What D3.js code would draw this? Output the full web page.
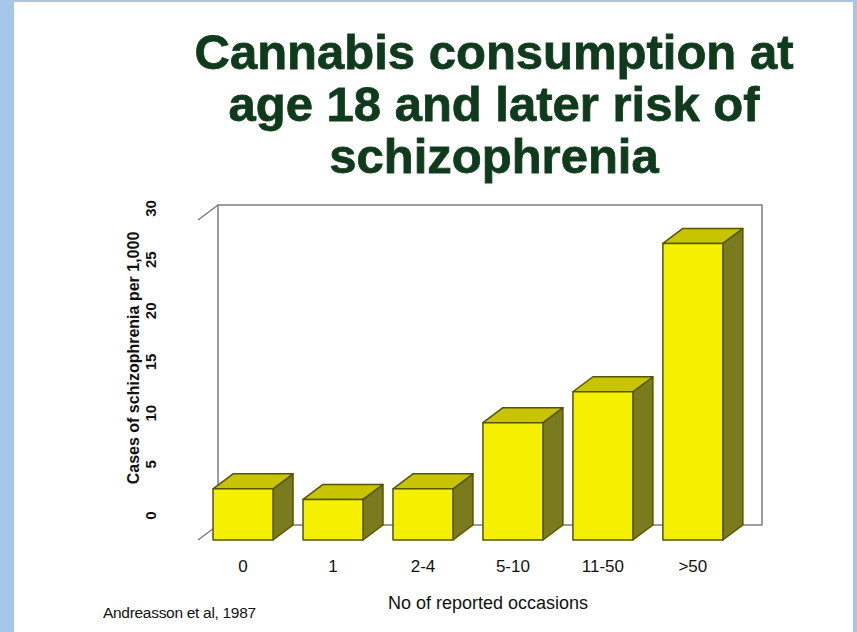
<!DOCTYPE html>
<html>
<head>
<meta charset="utf-8">
<script src="https://cdn.jsdelivr.net/npm/d3@7"></script>
<style>
  html, body { margin: 0; padding: 0; background: #fff; }
  svg { display: block; }
</style>
</head>
<body>
<script>
// data
const categories = ["0", "1", "2-4", "5-10", "11-50", ">50"]
const cases = [4.8, 3.8, 4.8, 11.0, 13.9, 27.8]
const yTicks = [0, 5, 10, 15, 20, 25, 30]
const titleLines = ["Cannabis consumption at", "age 18 and later risk of", "schizophrenia"]
const yTitle = "Cases of schizophrenia per 1,000"
const xTitle = "No of reported occasions"
const source = "Andreasson et al, 1987"

const width = 857, height = 632
const depth = { dx: 20, dy: -15 }

const svg = d3.select("body").append("svg")
    .attr("width", width)
    .attr("height", height)
    .style("font-family", "Arial, 'Liberation Sans', Helvetica, sans-serif")

// slide background with blue frame
svg.append("rect").attr("width", width).attr("height", height).attr("fill", "#a4c6e9")
svg.append("rect").attr("x", 14).attr("y", 2).attr("width", 839).attr("height", height - 2).attr("fill", "#fff")

// title
svg.append("g")
    .attr("fill", "#0f3b1c")
    .attr("stroke", "#0f3b1c")
    .attr("stroke-width", 0.8)
    .attr("font-weight", "bold")
    .attr("font-size", 49)
    .attr("text-anchor", "middle")
    .selectAll("text")
    .data(titleLines)
    .join("text")
    .attr("x", 494)
    .attr("y", (d, i) => 69 + i * 52)
    .text(d => d)

const x = d3.scaleBand(categories, [198, 742])
    .paddingInner(1 / 3)
    .paddingOuter(0.19)
    .align(0.44)
const y = d3.scaleLinear([0, 30], [540, 220])
// tick labels sit a bit higher than the front floor
const yLabel = d3.scaleLinear([0, 30], [515, 208])

// back panel of the 3D box
const [left, right] = x.range()
const panel = svg.append("g")
    .attr("fill", "none")
    .attr("stroke", "#7d7d7d")
    .attr("stroke-width", 1.5)
panel.append("path")
    .attr("d", `M${left + depth.dx},${y(0) + depth.dy}V${y(30) + depth.dy}H${right + depth.dx}V${y(0) + depth.dy}Z`)
panel.append("path")
    .attr("d", `M${left},${y(30)}L${left + depth.dx},${y(30) + depth.dy}M${left},${y(0)}L${left + depth.dx},${y(0) + depth.dy}`)

// bars
const bw = x.bandwidth()
const bars = svg.append("g")
    .attr("stroke", "#555500")
    .attr("stroke-width", 1.5)
    .attr("stroke-linejoin", "round")
    .selectAll("g")
    .data(categories.map((c, i) => ({ c, v: cases[i] })))
    .join("g")

bars.append("path")
    .attr("fill", "#7a7a1e")
    .attr("d", d => {
        const x0 = x(d.c) + bw, yt = y(d.v), yb = y(0)
        return `M${x0},${yt}l${depth.dx},${depth.dy}V${yb + depth.dy}L${x0},${yb}Z`
    })
bars.append("path")
    .attr("fill", "#c8c400")
    .attr("d", d => {
        const x0 = x(d.c), yt = y(d.v)
        return `M${x0},${yt}l${depth.dx},${depth.dy}h${bw}l${-depth.dx},${-depth.dy}Z`
    })
bars.append("rect")
    .attr("fill", "#f4f000")
    .attr("x", d => x(d.c))
    .attr("y", d => y(d.v))
    .attr("width", bw)
    .attr("height", d => y(0) - y(d.v))

// y axis labels (rotated)
const yAxis = svg.append("g")
    .attr("transform", "translate(156,0)")
    .call(d3.axisLeft(yLabel).tickValues(yTicks).tickSize(0))
yAxis.select(".domain").remove()
yAxis.selectAll(".tick text")
    .attr("x", 0)
    .attr("dy", 0)
    .attr("text-anchor", "middle")
    .attr("transform", "rotate(-90)")
    .attr("fill", "#111")
    .attr("font-size", 15)
    .attr("font-weight", "bold")
    .attr("font-family", "Arial, 'Liberation Sans', sans-serif")

svg.append("text")
    .attr("transform", "translate(139,358) rotate(-90)")
    .attr("text-anchor", "middle")
    .attr("font-size", 16)
    .attr("font-weight", "bold")
    .attr("fill", "#111")
    .text(yTitle)

// x axis labels
const xAxis = svg.append("g")
    .attr("transform", "translate(0,572)")
    .call(d3.axisBottom(x).tickSize(0))
xAxis.select(".domain").remove()
xAxis.selectAll(".tick text")
    .attr("y", 0)
    .attr("dy", 0)
    .attr("fill", "#111")
    .attr("font-size", 17)
    .attr("font-family", "Arial, 'Liberation Sans', sans-serif")

svg.append("text")
    .attr("x", 488)
    .attr("y", 609)
    .attr("text-anchor", "middle")
    .attr("font-size", 18)
    .attr("fill", "#111")
    .text(xTitle)

svg.append("text")
    .attr("x", 103)
    .attr("y", 618)
    .attr("font-size", 15.5)
    .attr("letter-spacing", -0.3)
    .attr("fill", "#111")
    .text(source)
</script>
</body>
</html>
